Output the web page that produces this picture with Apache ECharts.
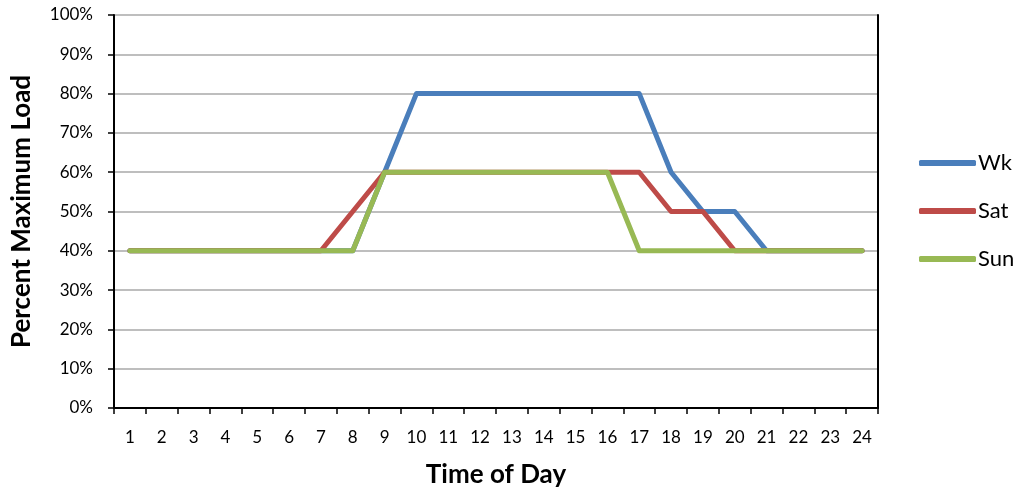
<!DOCTYPE html>
<html>
<head>
<meta charset="utf-8">
<script src="https://cdn.jsdelivr.net/npm/echarts@6/dist/echarts.min.js"></script>
<style>
html,body{margin:0;padding:0;background:#fff;}
#c{width:1024px;height:493px;}
</style>
</head>
<body>
<div id="c"></div>
<script>
const hours = ['1','2','3','4','5','6','7','8','9','10','11','12','13','14','15','16','17','18','19','20','21','22','23','24'];
const wk  = [40,40,40,40,40,40,40,40,60,80,80,80,80,80,80,80,80,60,50,50,40,40,40,40];
const sat = [40,40,40,40,40,40,40,50,60,60,60,60,60,60,60,60,60,50,50,40,40,40,40,40];
const sun = [40,40,40,40,40,40,40,40,60,60,60,60,60,60,60,60,40,40,40,40,40,40,40,40];
const seriesNames = ['Wk','Sat','Sun'];
const colors = ['#4A7EBB','#BE4B48','#98B954'];
const font = 'Lato, "Open Sans", sans-serif';

const chart = echarts.init(document.getElementById('c'));
const mk = (name, data, color) => ({
  name, type:'line', data, showSymbol:false, symbol:'none',
  lineStyle:{width:5, color, cap:'round', join:'round'},
  itemStyle:{color}, animation:false
});
chart.setOption({
  animation:false,
  grid:{left:114, right:146, top:15, bottom:85, containLabel:false, outerBoundsMode:'none'},
  legend:{
    orient:'vertical', left:914, top:147, itemGap:26,
    icon:'roundRect', itemWidth:57, itemHeight:6,
    textStyle:{fontFamily:font, fontSize:22, color:'#000', lineHeight:21, padding:[0,0,0,-3]},
    data:seriesNames
  },
  xAxis:{
    type:'category', data:hours, boundaryGap:true,
    name:'Time of Day', nameLocation:'middle', nameGap:54,
    nameTextStyle:{fontFamily:font, fontSize:26, fontWeight:'bold', color:'#000'},
    axisLine:{lineStyle:{color:'#000', width:2}},
    axisTick:{show:true, alignWithLabel:false, length:6, lineStyle:{color:'#000', width:1.5}},
    axisLabel:{fontFamily:font, fontSize:17, color:'#000', margin:21, interval:0},
    splitLine:{show:false}
  },
  yAxis:[{
    type:'value', min:0, max:100, interval:10,
    name:'Percent Maximum Load', nameLocation:'middle', nameGap:79, nameRotate:90,
    nameTextStyle:{fontFamily:font, fontSize:26, fontWeight:'bold', color:'#000'},
    axisLine:{show:true, lineStyle:{color:'#000', width:2}},
    axisTick:{show:true, length:6, lineStyle:{color:'#000', width:1.5}},
    axisLabel:{fontFamily:font, fontSize:17, color:'#000', margin:21, formatter:'{value}%'},
    splitLine:{show:true, lineStyle:{color:'#BEBEBE', width:2}}
  },{
    type:'value', min:0, max:100, interval:10, position:'right',
    axisLine:{show:true, lineStyle:{color:'#000', width:2}},
    axisTick:{show:false}, axisLabel:{show:false}, splitLine:{show:false}
  }],
  series:[mk('Wk', wk, colors[0]), mk('Sat', sat, colors[1]), mk('Sun', sun, colors[2])]
});
</script>
</body>
</html>
